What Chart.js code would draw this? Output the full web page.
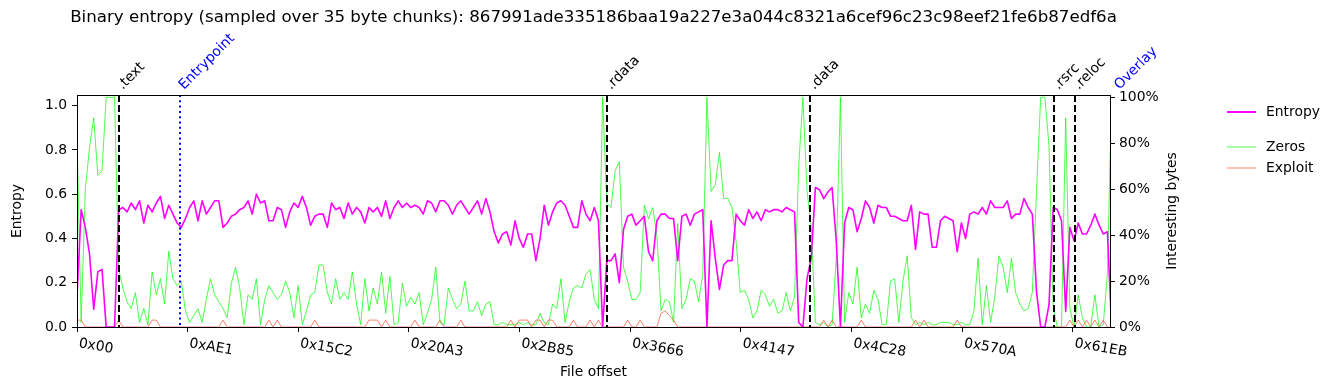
<!DOCTYPE html>
<html>
<head>
<meta charset="utf-8">
<script src="https://cdn.jsdelivr.net/npm/chart.js@4.4.1/dist/chart.umd.min.js"></script>
<style>
  body { margin: 0; background: #fff; }
</style>
</head>
<body>
<canvas id="entropyChart" width="1335" height="390"></canvas>
<script>
const SHA256 = '867991ade335186baa19a227e3a044c8321a6cef96c23c98eef21fe6b87edf6a';
const CHUNK = 35;
const STEP = 105;      // one plotted point every 3 chunks
const X_MAX = 26000;

const TICK_LABELS = ['0x00', '0xAE1', '0x15C2', '0x20A3', '0x2B85', '0x3666', '0x4147', '0x4C28', '0x570A', '0x61EB'];
const Y_TICKS = [0, 0.2, 0.4, 0.6, 0.8, 1.0];
const PCT_TICKS = [0, 20, 40, 60, 80, 100];

const SECTIONS = ['.text', '.rdata', '.data', '.rsrc', '.reloc'];
const SECTION_OFFSETS = [0x400, 0x3400, 0x4800, 0x6000, 0x6200];
const ENTRYPOINT = 0xA06;
const OVERLAY = 0x6600;

const ENTROPY = [
  0.14, 0.53, 0.45, 0.33, 0.08, 0.25, 0.26, 0, 0, 0, 0.53, 0.54, 0.52, 0.56, 0.53, 0.57, 0.47, 0.55, 0.52, 0.56, 0.59, 0.49, 0.55, 0.51, 0.47,
  0.45, 0.49, 0.54, 0.57, 0.48, 0.57, 0.51, 0.54, 0.57, 0.57, 0.45, 0.47, 0.50, 0.51, 0.53, 0.54, 0.57, 0.51, 0.60, 0.56, 0.57, 0.48, 0.48, 0.54, 0.53,
  0.45, 0.52, 0.56, 0.54, 0.59, 0.54, 0.46, 0.50, 0.51, 0.51, 0.45, 0.56, 0.53, 0.54, 0.49, 0.56, 0.51, 0.54, 0.52, 0.47, 0.54, 0.52, 0.54, 0.50, 0.57,
  0.49, 0.54, 0.57, 0.54, 0.56, 0.54, 0.55, 0.54, 0.51, 0.57, 0.56, 0.52, 0.57, 0.57, 0.55, 0.51, 0.55, 0.57, 0.54, 0.51, 0.54, 0.57, 0.51, 0.58, 0.52,
  0.43, 0.38, 0.42, 0.43, 0.37, 0.48, 0.40, 0.36, 0.42, 0.42, 0.30, 0.40, 0.55, 0.46, 0.52, 0.56, 0.57, 0.55, 0.50, 0.45, 0.45, 0.57, 0.51, 0.48, 0.54,
  0.48, 0, 0.30, 0.30, 0.33, 0.20, 0.44, 0.50, 0.51, 0.46, 0.48, 0.50, 0.34, 0.30, 0.48, 0.51, 0.51, 0.49, 0.49, 0.30, 0.50, 0.51, 0.46, 0.51, 0.52,
  0.53, 0, 0.48, 0.31, 0.17, 0.28, 0.30, 0.30, 0.51, 0.48, 0.46, 0.53, 0.49, 0.52, 0.48, 0.53, 0.52, 0.53, 0.53, 0.52, 0.54, 0.53, 0.52, 0.02, 0,
  0.22, 0.31, 0.63, 0.62, 0.58, 0.61, 0.63, 0.39, 0, 0.47, 0.54, 0.53, 0.43, 0.49, 0.57, 0.54, 0.47, 0.55, 0.54, 0.54, 0.50, 0.50, 0.49, 0.48, 0.48,
  0.55, 0.35, 0.52, 0.51, 0.51, 0.36, 0.36, 0.48, 0.50, 0.49, 0.48, 0.34, 0.47, 0.40, 0.51, 0.52, 0.51, 0.54, 0.51, 0.57, 0.54, 0.54, 0.54, 0.57, 0.49,
  0.51, 0.51, 0.58, 0.54, 0.51, 0.16, 0, 0, 0.10, 0.54, 0.53, 0.48, 0.07, 0.45, 0.39, 0.47, 0.42, 0.42, 0.46, 0.51, 0.46, 0.42, 0.43, 0
];

const ZEROS = [
  83, 2, 60, 78, 91, 66, 68, 100, 100, 100, 25, 17, 11, 8, 15, 2, 8, 1, 24, 14, 21, 10, 33, 21, 18,
  20, 7, 2, 5, 8, 2, 12, 21, 14, 11, 8, 4, 19, 26, 17, 1, 14, 12, 21, 1, 12, 18, 15, 12, 14,
  20, 15, 4, 18, 1, 7, 14, 15, 27, 27, 15, 10, 21, 12, 15, 12, 24, 10, 1, 21, 7, 17, 10, 24, 6,
  22, 1, 2, 19, 9, 13, 10, 15, 1, 6, 12, 26, 2, 1, 17, 12, 8, 10, 20, 7, 7, 11, 5, 10, 11,
  1, 1, 2, 1, 1, 1, 2, 1, 2, 1, 1, 6, 2, 1, 10, 8, 21, 2, 11, 17, 18, 17, 23, 25, 12,
  8, 100, 54, 52, 68, 72, 26, 20, 12, 12, 15, 53, 47, 52, 40, 7, 12, 11, 2, 45, 8, 12, 21, 20, 11,
  23, 100, 59, 62, 76, 56, 56, 52, 37, 15, 16, 12, 4, 7, 16, 14, 9, 12, 6, 7, 15, 7, 13, 70, 100,
  59, 44, 2, 1, 2, 0, 1, 30, 100, 2, 15, 10, 26, 4, 10, 6, 16, 12, 1, 1, 20, 21, 2, 20, 31,
  4, 1, 2, 1, 2, 1, 1, 2, 2, 2, 1, 1, 2, 1, 1, 7, 30, 1, 18, 2, 13, 31, 26, 15, 30,
  15, 10, 7, 8, 15, 59, 100, 100, 79, 8, 0, 0, 91, 8, 0, 14, 4, 0, 0, 14, 0, 1, 23, 100
];

const EXPLOIT = [
  3, 3, 0, 0, 0, 0, 0, 0, 0, 0, 3, 0, 0, 0, 0, 0, 0, 0, 3, 3, 0, 0, 0, 0, 0,
  0, 0, 0, 0, 0, 0, 0, 0, 0, 0, 3, 0, 0, 0, 0, 0, 0, 0, 0, 0, 0, 3, 0, 3, 0,
  0, 0, 0, 0, 0, 0, 0, 3, 0, 0, 0, 0, 0, 0, 0, 0, 0, 0, 0, 0, 3, 3, 3, 0, 3,
  0, 0, 0, 0, 0, 0, 3, 0, 0, 0, 0, 0, 3, 0, 0, 0, 0, 3, 0, 0, 0, 0, 0, 0, 0,
  0, 0, 0, 0, 3, 0, 3, 3, 3, 0, 3, 3, 0, 3, 3, 0, 0, 0, 0, 3, 0, 0, 0, 3, 0,
  3, 0, 0, 0, 0, 0, 0, 3, 0, 0, 3, 0, 0, 0, 0, 6, 7, 5, 3, 0, 0, 0, 0, 0, 0,
  0, 0, 0, 0, 0, 0, 0, 0, 0, 0, 0, 0, 0, 0, 0, 0, 0, 0, 0, 0, 0, 0, 0, 0, 0,
  0, 0, 0, 0, 3, 0, 3, 0, 0, 0, 0, 0, 0, 3, 0, 0, 0, 0, 0, 0, 0, 0, 0, 0, 0,
  0, 3, 0, 3, 0, 0, 0, 0, 0, 0, 0, 3, 0, 0, 0, 0, 0, 0, 0, 0, 0, 0, 0, 0, 0,
  0, 0, 0, 0, 0, 0, 0, 0, 0, 0, 0, 0, 0, 3, 0, 3, 0, 3, 0, 3, 0, 3, 0, 0
];

const FONT = 'DejaVu Sans';
const MAGENTA = '#ff00ff';
const GREEN = 'rgba(0,255,0,0.7)';
const CORAL = 'rgba(255,99,71,0.8)';

Chart.defaults.font.family = FONT;
Chart.defaults.font.size = 13.9;
Chart.defaults.color = '#000';

const toPoints = arr => arr.map((v, i) => ({ x: i * STEP, y: v }));

// section lines, labels, title, legend and rotated offset labels
const overlay = {
  id: 'overlay',
  afterDatasetsDraw(chart) {
    const { ctx, chartArea: a, scales: { x } } = chart;
    ctx.save();
    ctx.beginPath();
    ctx.rect(a.left, a.top, a.right - a.left, a.bottom - a.top);
    ctx.clip();
    ctx.lineWidth = 2;
    ctx.strokeStyle = '#000';
    ctx.setLineDash([7, 3]);
    SECTION_OFFSETS.forEach(off => {
      const px = Math.round(x.getPixelForValue(off)) + 1;
      ctx.beginPath();
      ctx.moveTo(px, a.top);
      ctx.lineTo(px, a.bottom);
      ctx.stroke();
    });
    ctx.strokeStyle = '#0000ff';
    ctx.setLineDash([2, 3.3]);
    const ep = Math.round(x.getPixelForValue(ENTRYPOINT)) + 1;
    ctx.beginPath();
    ctx.moveTo(ep, a.top);
    ctx.lineTo(ep, a.bottom);
    ctx.stroke();
    ctx.restore();
  },
  afterDraw(chart) {
    const { ctx, chartArea: a, scales: { x } } = chart;
    ctx.save();
    // frame
    ctx.lineWidth = 1;
    ctx.strokeStyle = '#000';
    ctx.strokeRect(a.left + 0.5, a.top + 0.5, a.right - a.left, a.bottom - a.top);

    // title
    ctx.fillStyle = '#000';
    ctx.font = '16.65px "' + FONT + '"';
    ctx.textAlign = 'center';
    ctx.textBaseline = 'middle';
    ctx.fillText('Binary entropy (sampled over ' + CHUNK + ' byte chunks): ' + SHA256, (a.left + a.right) / 2, 18);

    // right axis title, reading upwards
    ctx.font = '13.9px "' + FONT + '"';
    ctx.save();
    ctx.translate(1172, (a.top + a.bottom) / 2);
    ctx.rotate(-Math.PI / 2);
    ctx.fillText('Interesting bytes', 0, 0);
    ctx.restore();

    // rotated offset tick labels
    ctx.textAlign = 'left';
    ctx.textBaseline = 'top';
    TICK_LABELS.forEach(t => {
      const px = x.getPixelForValue(parseInt(t, 16));
      ctx.save();
      ctx.translate(px + 3, 336.5);
      ctx.rotate(10 * Math.PI / 180);
      ctx.fillText(t, 0, 0);
      ctx.restore();
    });

    // section labels
    ctx.textBaseline = 'alphabetic';
    const label = (text, off, color) => {
      const px = x.getPixelForValue(off);
      ctx.save();
      ctx.fillStyle = color;
      ctx.translate(px + 5, 90);
      ctx.rotate(-Math.PI / 4);
      ctx.fillText(text, 0, 0);
      ctx.restore();
    };
    SECTIONS.forEach((s, i) => label(s, SECTION_OFFSETS[i], '#000'));
    label('Entrypoint', ENTRYPOINT, '#0000ff');
    label('Overlay', OVERLAY, '#0000ff');

    // legend
    const legendRow = (text, y, color, w) => {
      ctx.strokeStyle = color;
      ctx.lineWidth = w;
      ctx.setLineDash([]);
      ctx.beginPath();
      ctx.moveTo(1227, y);
      ctx.lineTo(1256, y);
      ctx.stroke();
      ctx.fillStyle = '#000';
      ctx.textBaseline = 'middle';
      ctx.fillText(text, 1266, y);
    };
    legendRow('Entropy', 112, MAGENTA, 2);
    legendRow('Zeros', 147, GREEN, 1);
    legendRow('Exploit', 168, CORAL, 1);
    ctx.restore();
  }
};

const ctx = document.getElementById('entropyChart').getContext('2d');
const chart = new Chart(ctx, {
  type: 'line',
  data: {
    datasets: [
      { label: 'Entropy', data: toPoints(ENTROPY), yAxisID: 'y', borderColor: MAGENTA, borderWidth: 1.6, order: 0 },
      { label: 'Zeros', data: toPoints(ZEROS), yAxisID: 'y1', borderColor: GREEN, borderWidth: 1, order: 2 },
      { label: 'Exploit', data: toPoints(EXPLOIT), yAxisID: 'y1', borderColor: CORAL, borderWidth: 1, order: 1 }
    ]
  },
  options: {
    responsive: false,
    animation: false,
    devicePixelRatio: 1,
    elements: { point: { radius: 0 }, line: { tension: 0, borderJoinStyle: 'round' } },
    layout: { padding: { top: 95, left: 0, right: 0, bottom: 0 } },
    plugins: { legend: { display: false }, tooltip: { enabled: false } },
    scales: {
      x: {
        type: 'linear', min: 0, max: X_MAX,
        afterBuildTicks: s => { s.ticks = TICK_LABELS.map(t => ({ value: parseInt(t, 16) })); },
        ticks: { display: false },
        grid: { drawOnChartArea: false, color: '#000', tickLength: 5 },
        border: { display: false },
        title: { display: true, text: 'File offset', padding: { top: 0, bottom: 9.7 } },
        afterFit: s => { s.height = 63; }
      },
      y: {
        position: 'left', min: 0, max: 1.048,
        afterBuildTicks: s => { s.ticks = Y_TICKS.map(v => ({ value: v })); },
        ticks: { callback: v => v.toFixed(1), padding: 5 },
        grid: { drawOnChartArea: false, color: '#000', tickLength: 5 },
        border: { display: false },
        title: { display: true, text: 'Entropy', padding: { top: 8.7, bottom: 0 } },
        afterFit: s => { s.width = 77; }
      },
      y1: {
        position: 'right', min: 0, max: 101,
        afterBuildTicks: s => { s.ticks = PCT_TICKS.map(v => ({ value: v })); },
        ticks: { callback: v => v + '%', padding: 4 },
        grid: { drawOnChartArea: false, color: '#000', tickLength: 5 },
        border: { display: false },
        afterFit: s => { s.width = 225; }
      }
    }
  },
  plugins: [overlay]
});
</script>
</body>
</html>
